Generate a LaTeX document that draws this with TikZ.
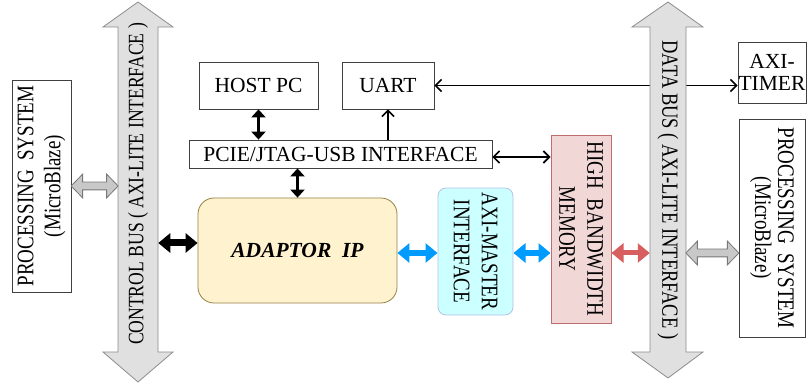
\documentclass[tikz,border=0pt]{standalone}
\usepackage{fontspec}
\setmainfont{Liberation Serif}
\usetikzlibrary{arrows.meta,shapes.arrows}

\definecolor{busgray}{RGB}{224,224,224}
\definecolor{busline}{RGB}{140,140,140}
\definecolor{arrgray}{RGB}{200,200,200}
\definecolor{arrline}{RGB}{120,120,120}
\definecolor{adfill}{RGB}{255,242,206}
\definecolor{adborder}{RGB}{150,130,70}
\definecolor{axifill}{RGB}{204,255,255}
\definecolor{axiborder}{RGB}{180,195,230}
\definecolor{hbmfill}{RGB}{242,215,215}
\definecolor{hbmborder}{RGB}{190,110,110}
\definecolor{arrblue}{RGB}{0,155,255}
\definecolor{arrred}{RGB}{215,95,95}

\begin{document}
\begin{tikzpicture}[x=1pt,y=-1pt,
    box/.style={draw=black!75, line width=0.8pt, fill=white, inner sep=0pt, align=center, font=\fontsize{21.5}{22}\selectfont},
    vbox/.style={box, font=\fontsize{19}{22.4}\selectfont},
    bustext/.style={inner sep=0pt, font=\fontsize{18.5}{22}\selectfont},
    bus/.style={draw=busline, fill=busgray, line width=0.8pt, line join=miter},
    link/.style={line width=1.6pt, >={Straight Barb[length=6pt,width=12pt]}},
    blkarr/.style={line width=3.5pt, <->, >={Triangle[length=8pt,width=14pt]}},
    fatarr/.style={<->, >={Triangle[length=12pt,width=19pt]}},
    grayarr/.style={double arrow, draw=arrline, fill=arrgray, line width=0.8pt, inner sep=3.5pt, double arrow head extend=8pt, double arrow tip angle=92, minimum height=#1}]
    \useasboundingbox[fill=white] (0,0) rectangle (807,385);

    % blocks
    \node[box, minimum width=119, minimum height=47] (host) at (258.5,85.5) {HOST PC};
    \node[box, minimum width=92, minimum height=47] (uart) at (388,85.5) {UART};
    \node[box, minimum width=303, minimum height=28] (pcie) at (340.5,154) {PCIE/JTAG-USB INTERFACE};
    \node[box, draw=adborder, fill=adfill, rounded corners=16, minimum width=199, minimum height=105,
          font=\fontsize{21.5}{22}\selectfont\bfseries\itshape] (adaptor) at (297.5,250.5) {ADAPTOR~~IP};
    \node[vbox, rotate=-90, yscale=1.25, draw=axiborder, fill=axifill, rounded corners=8, minimum width=127, minimum height=60] (axim) at (475.5,251.5) {AXI-MASTER\\INTERFACE};
    \node[vbox, rotate=-90, yscale=1.25, draw=hbmborder, fill=hbmfill, minimum width=188, minimum height=48] (hbm) at (581,229) {HIGH~~BANDWIDTH\\MEMORY};
    \node[box, minimum width=68, minimum height=61] (timer) at (772,72.5) {AXI-\\TIMER};
    \node[vbox, rotate=-90, yscale=1.25, minimum width=218, minimum height=52.8, font=\fontsize{19}{18.4}\selectfont] (rps) at (772,228) {PROCESSING~~SYSTEM\\(MicroBlaze)};
    \node[vbox, rotate=90, yscale=1.25, minimum width=212, minimum height=47.2, font=\fontsize{19}{21.6}\selectfont] (lps) at (41.5,186) {PROCESSING~~SYSTEM\\(MicroBlaze)};

    % uart to timer runs under the data bus
    \draw[link, <->] (uart.east) -- (timer.west |- uart.east);

    % buses
    \draw[bus] (118,27) -- (103,27) -- (138,2) -- (173,27) -- (158,27) -- (158,352) -- (173,352) -- (138,382) -- (103,352) -- (118,352) -- cycle;
    \node[bustext, rotate=90, yscale=1.25, minimum height=32, font=\fontsize{17.6}{22}\selectfont] (cbus) at (138,184) {CONTROL BUS ( AXI-LITE INTERFACE )};
    \draw[bus] (650,27) -- (632,27) -- (668,2) -- (703,27) -- (686,27) -- (686,352) -- (703,352) -- (668,378) -- (632,352) -- (650,352) -- cycle;
    \node[bustext, rotate=-90, yscale=1.25, minimum height=28.8] (dbus) at (668,190) {DATA BUS ( AXI-LITE INTERFACE )};

    \coordinate (ctl) at (0,243);
    \coordinate (lane) at (0,253);
    \coordinate (pl) at (0,157);

    % connectors
    \draw[blkarr] (host.south) -- (host.south |- pcie.north);
    \draw[link, ->] (pcie.north -| uart.south) -- (uart.south);
    \draw[link, <->] (pcie.east |- pl) -- (hbm.south |- pl);
    \draw[blkarr] (pcie.south -| adaptor.north) -- (adaptor.north);
    \draw[fatarr, line width=7pt] (cbus.south |- ctl) -- (adaptor.west |- ctl);
    \draw[fatarr, arrblue, line width=6pt] (adaptor.east |- lane) -- (axim.south |- lane);
    \draw[fatarr, arrblue, line width=6pt] (axim.north |- lane) -- (hbm.south |- lane);
    \draw[fatarr, arrred, line width=5pt] (hbm.north |- lane) -- (dbus.south |- lane);
    \path (lps.south) -- node[grayarr=47] {} (cbus.north |- lps.south);
    \path (dbus.north |- lane) -- node[grayarr=53] {} (rps.south |- lane);
\end{tikzpicture}
\end{document}
